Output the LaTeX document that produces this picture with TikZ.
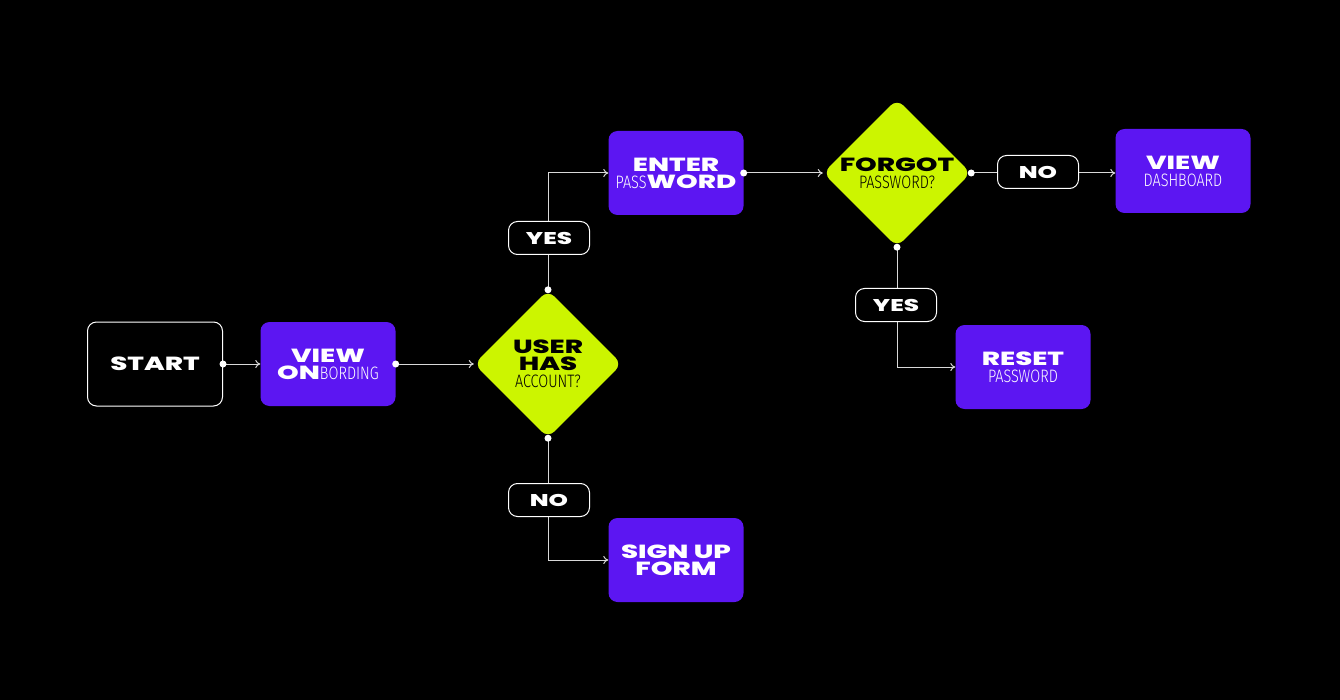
\documentclass[tikz,border=0pt]{standalone}
\usepackage{fontspec}
\usetikzlibrary{shapes.geometric,arrows.meta}
\newfontfamily\wide{Poppins}[UprightFont=*-ExtraBold,FakeStretch=1.45]
\newfontfamily\thin{Fira Sans}[UprightFont=* Light,FakeStretch=0.8]
\definecolor{purp}{HTML}{5C16F2}
\definecolor{lime}{HTML}{CCF500}
\begin{document}
\begin{tikzpicture}[x=1pt,y=-1pt,
  box/.style={rectangle,rounded corners=9pt,minimum width=135pt,minimum height=84pt,align=center,inner sep=0pt,font=\wide\fontsize{19}{17}\selectfont},
  pbox/.style={box,fill=purp,text=white},
  dia/.style={diamond,fill=lime,rounded corners=9pt,minimum width=148pt,minimum height=148pt,inner sep=0pt,align=center,text=black,font=\wide\fontsize{19}{17}\selectfont},
  lab/.style={rectangle,rounded corners=9pt,draw=white,line width=1pt,fill=black,text=white,minimum width=81pt,minimum height=33pt,inner sep=0pt,font=\wide\fontsize{17}{16}\selectfont},
  con/.style={draw=white!85!black,line width=1pt,-{To[length=5pt,width=8pt]}},
  dot/.style={circle,fill=white,inner sep=0pt,minimum size=7pt}]
\fill[black] (0,0) rectangle (1340,700);
\useasboundingbox (0,0) rectangle (1340,700);
\newcommand\tn[1]{{\thin\fontsize{18}{17}\selectfont #1}}
\node[box,draw=white,line width=1pt,text=white] (start) at (155,364) {START};
\node[pbox] (onb) at (328,364) {VIEW\\ON\tn{BORDING}};
\node[dia] (user) at (548,364) {USER\\HAS\\\tn{ACCOUNT?}};
\node[pbox] (enter) at (676,173) {ENTER\\\tn{PASS}WORD};
\node[dia] (forgot) at (897,173) {FORGOT\\\tn{PASSWORD?}};
\node[pbox] (dash) at (1183,171) {VIEW\\\tn{DASHBOARD}};
\node[pbox] (sign) at (676,560) {SIGN UP\\FORM};
\node[pbox] (reset) at (1023,367) {RESET\\\tn{PASSWORD}};
\coordinate (c1) at (548,173);
\coordinate (c2) at (548,560);
\coordinate (c3) at (897,367);
\draw[con] (start.east) -- (onb.west);
\draw[con] (onb.east) -- (user.west);
\draw[con] (user.north) -- (c1) -- (enter.west);
\draw[con] (user.south) -- (c2) -- (sign.west);
\draw[con] (enter.east) -- (forgot.west);
\draw[con] (forgot.east) -- (dash.west |- forgot.east);
\draw[con] (forgot.south) -- (c3) -- (reset.west);
\node[lab] (yes1) at (549,238) {YES};
\node[lab] (no1) at (549,500) {NO};
\node[lab] (no2) at (1038,172) {NO};
\node[lab] (yes2) at (896,305) {YES};
\foreach \p in {start.east,onb.east,user.north,user.south,enter.east,forgot.east,forgot.south}
  \node[dot] at (\p) {};
\end{tikzpicture}
\end{document}
